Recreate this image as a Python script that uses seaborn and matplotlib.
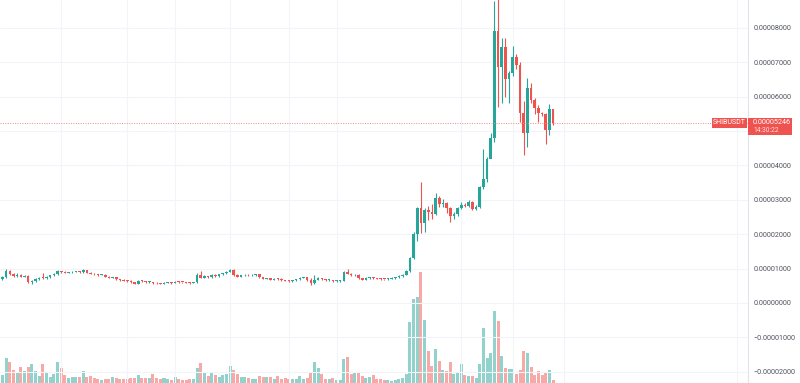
import numpy as np
import pandas as pd
import seaborn as sns
import matplotlib.pyplot as plt
from matplotlib.patches import Rectangle
from matplotlib.ticker import FuncFormatter

# SHIBUSDT candles, prices in units of 1e-5 USDT
opens = [0.70, 0.76, 0.93, 0.84, 0.79, 0.82, 0.77, 0.79, 0.61, 0.64,
         0.70, 0.74, 0.72, 0.76, 0.80, 0.84, 0.93, 0.90, 0.88, 0.89,
         0.91, 0.92, 0.90, 0.95, 0.88, 0.85, 0.83, 0.81, 0.82, 0.77,
         0.74, 0.75, 0.70, 0.67, 0.65, 0.64, 0.60, 0.56, 0.64, 0.63,
         0.60, 0.61, 0.58, 0.57, 0.56, 0.58, 0.59, 0.58, 0.62, 0.61,
         0.60, 0.59, 0.58, 0.60, 0.81, 0.74, 0.78, 0.76, 0.82, 0.78,
         0.83, 0.86, 0.91, 0.97, 0.81, 0.77, 0.80, 0.82, 0.80, 0.81,
         0.83, 0.75, 0.71, 0.72, 0.68, 0.71, 0.70, 0.66, 0.65, 0.64,
         0.66, 0.69, 0.74, 0.75, 0.66, 0.58, 0.68, 0.73, 0.70, 0.66,
         0.67, 0.63, 0.64, 0.65, 0.90, 0.85, 0.80, 0.82, 0.73, 0.68,
         0.73, 0.75, 0.72, 0.71, 0.70, 0.69, 0.71, 0.73, 0.75, 0.78,
         0.82, 0.93, 1.31, 2.00, 2.77, 2.32, 2.70, 2.65, 2.60, 3.05,
         2.88, 2.90, 2.75, 2.52, 2.60, 2.76, 2.85, 2.83, 2.93, 2.73,
         2.80, 3.37, 3.60, 4.20, 4.80, 7.90, 6.86, 7.45, 6.50, 6.68,
         7.15, 6.92, 5.52, 4.94, 6.25, 5.90, 5.67, 5.52, 5.49, 5.03,
         5.64]
closes = [0.76, 0.93, 0.84, 0.79, 0.82, 0.77, 0.79, 0.61, 0.64, 0.70,
          0.74, 0.72, 0.76, 0.80, 0.84, 0.93, 0.90, 0.88, 0.89, 0.91,
          0.92, 0.90, 0.95, 0.88, 0.85, 0.83, 0.81, 0.82, 0.77, 0.74,
          0.75, 0.70, 0.67, 0.65, 0.64, 0.60, 0.56, 0.64, 0.63, 0.60,
          0.61, 0.58, 0.57, 0.56, 0.58, 0.59, 0.58, 0.62, 0.61, 0.60,
          0.59, 0.58, 0.60, 0.81, 0.74, 0.78, 0.76, 0.82, 0.78, 0.83,
          0.86, 0.91, 0.97, 0.81, 0.77, 0.80, 0.82, 0.80, 0.81, 0.83,
          0.75, 0.71, 0.72, 0.68, 0.71, 0.70, 0.66, 0.65, 0.64, 0.66,
          0.69, 0.74, 0.75, 0.66, 0.58, 0.68, 0.73, 0.70, 0.66, 0.67,
          0.63, 0.64, 0.65, 0.90, 0.85, 0.80, 0.82, 0.73, 0.68, 0.73,
          0.75, 0.72, 0.71, 0.70, 0.69, 0.71, 0.73, 0.75, 0.78, 0.82,
          0.93, 1.31, 2.00, 2.77, 2.32, 2.70, 2.65, 2.60, 3.05, 2.88,
          2.90, 2.75, 2.52, 2.60, 2.76, 2.85, 2.83, 2.93, 2.73, 2.80,
          3.37, 3.60, 4.20, 4.80, 7.90, 6.86, 7.45, 6.50, 6.68, 7.15,
          6.92, 5.52, 4.94, 6.25, 5.90, 5.67, 5.52, 5.49, 5.03, 5.64,
          5.246]
highs = [0.79, 0.99, 0.95, 0.86, 0.87, 0.84, 0.81, 0.80, 0.67, 0.72,
         0.76, 0.88, 0.78, 0.82, 0.86, 0.96, 0.94, 0.92, 0.91, 0.93,
         0.94, 0.93, 0.99, 0.96, 0.89, 0.86, 0.84, 0.84, 0.83, 0.78,
         0.77, 0.76, 0.71, 0.69, 0.66, 0.66, 0.62, 0.66, 0.66, 0.64,
         0.63, 0.62, 0.60, 0.59, 0.60, 0.61, 0.60, 0.64, 0.63, 0.62,
         0.61, 0.60, 0.62, 0.88, 0.92, 0.80, 0.79, 0.84, 0.83, 0.85,
         0.88, 0.93, 1.00, 0.98, 0.83, 0.82, 0.84, 0.83, 0.83, 0.85,
         0.84, 0.77, 0.74, 0.73, 0.73, 0.72, 0.72, 0.68, 0.67, 0.68,
         0.71, 0.76, 0.77, 0.76, 0.73, 0.80, 0.75, 0.74, 0.71, 0.69,
         0.68, 0.66, 0.67, 0.92, 0.98, 0.87, 0.84, 0.83, 0.74, 0.75,
         0.77, 0.76, 0.73, 0.72, 0.71, 0.73, 0.75, 0.77, 0.80, 0.84,
         0.97, 1.35, 2.05, 2.80, 3.52, 2.75, 2.83, 2.88, 3.20, 3.10,
         3.02, 2.95, 2.78, 2.65, 2.80, 2.95, 2.90, 2.98, 2.97, 2.85,
         3.40, 4.48, 4.25, 4.95, 8.77, 8.90, 7.70, 7.70, 6.75, 7.48,
         7.25, 7.00, 5.86, 6.54, 6.40, 5.95, 5.75, 5.55, 5.52, 5.78,
         5.64]
lows = [0.68, 0.74, 0.82, 0.77, 0.77, 0.75, 0.76, 0.59, 0.56, 0.62,
        0.68, 0.70, 0.70, 0.74, 0.78, 0.80, 0.86, 0.86, 0.86, 0.87,
        0.89, 0.88, 0.88, 0.86, 0.83, 0.81, 0.79, 0.80, 0.75, 0.72,
        0.72, 0.68, 0.65, 0.63, 0.62, 0.58, 0.54, 0.55, 0.61, 0.58,
        0.59, 0.56, 0.55, 0.54, 0.55, 0.57, 0.56, 0.57, 0.59, 0.58,
        0.57, 0.56, 0.57, 0.59, 0.72, 0.72, 0.74, 0.74, 0.76, 0.76,
        0.81, 0.84, 0.89, 0.79, 0.75, 0.76, 0.78, 0.78, 0.79, 0.79,
        0.73, 0.69, 0.69, 0.66, 0.66, 0.68, 0.64, 0.63, 0.62, 0.62,
        0.64, 0.67, 0.72, 0.64, 0.52, 0.56, 0.66, 0.68, 0.64, 0.64,
        0.61, 0.61, 0.62, 0.63, 0.83, 0.78, 0.78, 0.71, 0.66, 0.66,
        0.71, 0.70, 0.69, 0.68, 0.67, 0.67, 0.69, 0.71, 0.73, 0.76,
        0.80, 0.90, 1.28, 1.80, 2.03, 2.07, 2.40, 2.45, 2.56, 2.80,
        2.78, 2.62, 2.35, 2.45, 2.53, 2.72, 2.78, 2.78, 2.70, 2.70,
        2.76, 3.30, 3.52, 4.45, 4.68, 5.70, 5.80, 6.00, 5.80, 6.60,
        6.80, 5.25, 4.30, 4.53, 5.80, 5.50, 5.25, 5.45, 4.62, 4.88,
        5.17]
# volume, arbitrary units
volume = [8, 25, 21, 13, 11, 16, 12, 16, 19, 12,
          7, 19, 10, 6, 9, 21, 15, 8, 5, 6,
          6, 6, 12, 6, 7, 5, 4, 3, 4, 4,
          6, 5, 4, 4, 4, 5, 5, 8, 5, 5,
          5, 9, 5, 4, 5, 4, 3, 6, 4, 3,
          3, 4, 4, 15, 20, 10, 7, 11, 8, 6,
          8, 9, 17, 13, 9, 6, 6, 5, 4, 4,
          7, 6, 6, 6, 4, 7, 4, 5, 4, 4,
          4, 7, 4, 5, 11, 21, 15, 9, 4, 4,
          5, 3, 3, 24, 26, 9, 10, 10, 7, 5,
          6, 8, 4, 4, 3, 3, 2, 3, 4, 5,
          9, 61, 84, 86, 111, 63, 32, 17, 34, 22,
          13, 12, 21, 9, 10, 19, 8, 7, 7, 5,
          19, 55, 25, 30, 72, 62, 27, 15, 14, 14,
          9, 13, 32, 30, 16, 8, 12, 8, 11, 13,
          3]
price_ticks = [-2, -1, 0, 1, 2, 3, 4, 5, 6, 7, 8]
hidden_tick = 5  # covered by the last-price label
time_grid = [16, 34, 47, 62, 78, 91, 125, 139, 153, 200]
symbol = "SHIBUSDT"
last_price = "0.00005246"
countdown = "14:30:22"

sns.set_theme(style="white")
plt.rcParams['font.family'] = ['Roboto', 'DejaVu Sans']

up_col, dn_col = '#26a69a', '#ef5350'
vol_up, vol_dn = '#92d2cc', '#f7a9a7'

df = pd.DataFrame({'open': opens, 'close': closes, 'high': highs,
                   'low': lows, 'volume': volume})
df['idx'] = np.arange(len(df))
df['dir'] = np.where(df['close'] >= df['open'], 'up', 'down')
scale = 1e-5

fig = plt.figure(figsize=(8, 3.83), dpi=100)
rect = [0, 0, 748 / 800, 1]
vax = fig.add_axes(rect)
ax = fig.add_axes(rect)
ax.patch.set_alpha(0)

# volume pane
sns.barplot(data=df, x='idx', y='volume', hue='dir',
            palette={'up': vol_up, 'down': vol_dn}, native_scale=True,
            dodge=False, width=0.82, saturation=1, errorbar=None,
            legend=False, linewidth=0, ax=vax)
vax.set_xlim(-0.68, 203.1)
vax.set_ylim(0, 383)
vax.axis('off')

# candles
cols = np.where(df['dir'] == 'up', up_col, dn_col)
ax.vlines(df['idx'], df['low'] * scale, df['high'] * scale, colors=cols, lw=0.8)
body_lo = np.minimum(df['open'], df['close']) * scale
body_h = np.maximum(np.abs(df['close'] - df['open']), 0.025) * scale
ax.bar(df['idx'], body_h, bottom=body_lo, width=0.7, color=cols, lw=0)

ax.axhline(closes[-1] * scale, color='#f08a88', ls=(0, (1, 1.5)), lw=0.7)


def fmt(v, p):
    if abs(v / scale - hidden_tick) < 1e-6:
        return ""
    return f"{v:.8f}".replace('-', '\u2212')


ax.set_xlim(-0.68, 203.1)
ax.set_ylim(-2.326e-5, 8.808e-5)
ax.set_xticks(time_grid)
ax.set_yticks([t * scale for t in price_ticks])
ax.yaxis.tick_right()
ax.yaxis.set_major_formatter(FuncFormatter(fmt))
ax.tick_params(axis='y', length=0, pad=4, labelsize=5.2, labelcolor='#50535e')
ax.tick_params(axis='x', length=0, labelbottom=False)
ax.grid(True, color='#f2f4f9', lw=0.8)
ax.set_axisbelow(True)
for s in ['top', 'left', 'bottom']:
    ax.spines[s].set_visible(False)
ax.spines['right'].set_color('#e0e3eb')
ax.spines['right'].set_linewidth(0.8)

# price labels
W, H = 800, 383
fig.add_artist(Rectangle((712 / W, 1 - 128 / H), 35 / W, 10 / H,
                         transform=fig.transFigure, color=dn_col, lw=0))
fig.text(729.5 / W, 1 - 123 / H, symbol, color='white', fontsize=5,
         ha='center', va='center')
fig.add_artist(Rectangle((748 / W, 1 - 135 / H), 44 / W, 17 / H,
                         transform=fig.transFigure, color=dn_col, lw=0))
fig.text(753 / W, 1 - 123 / H, last_price, color='white', fontsize=5.2,
         ha='left', va='center')
fig.text(753 / W, 1 - 130.5 / H, countdown, color='#fde0df', fontsize=4.8,
         ha='left', va='center')

fig.savefig('out.png', dpi=100)
